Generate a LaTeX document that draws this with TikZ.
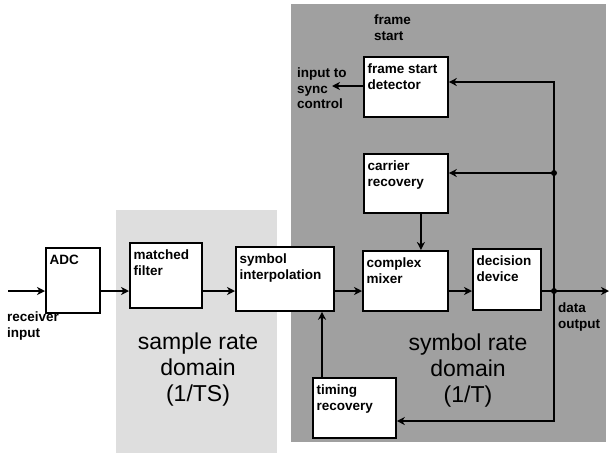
\documentclass[tikz,border=0pt]{standalone}
\usepackage{fontspec}
\setmainfont{Liberation Sans}
\usetikzlibrary{arrows.meta,positioning}

\definecolor{lightdom}{RGB}{222,222,222}
\definecolor{darkdom}{RGB}{160,160,160}

\begin{document}
\begin{tikzpicture}[
  x=1pt, y=-1pt,
  font=\bfseries\fontsize{13.5}{15.5}\selectfont,
  blk/.style={draw, line width=1.8pt, fill=white, anchor=north west, inner sep=0pt},
  lbl/.style={anchor=north west, align=left, inner xsep=4.5pt, inner ysep=8pt},
  txt/.style={anchor=north west, align=left, inner sep=0pt},
  dom/.style={align=center, font=\fontsize{23}{26}\selectfont},
  arr/.style={-{Stealth[length=8pt, width=8pt, inset=2.5pt]}, line width=1.8pt}]
\useasboundingbox (0,0) rectangle (610,453);
% ---------------- rate domains ----------------
\fill[lightdom] (116,210) rectangle (277,453);
\fill[darkdom] (291,4) rectangle (606,442);
\node[dom] (srd) at (198,370) {sample rate\\domain\\(1/TS)};
\node[dom] (yrd) at (468,371) {symbol rate\\domain\\(1/T)};
% ---------------- signal path ----------------
\node[blk, minimum width=54pt, minimum height=65pt, label={[lbl]north west:ADC}] (adc) at (45,247) {};
\node[blk, minimum width=72pt, minimum height=65pt, label={[lbl]north west:matched\\filter}] (mf) at (129,242) {};
\node[blk, minimum width=98pt, minimum height=64pt, label={[lbl]north west:symbol\\interpolation}] (si) at (235,246) {};
\node[blk, minimum width=85pt, minimum height=60pt, label={[lbl]north west:complex\\mixer}] (cm) at (362,250) {};
\node[blk, minimum width=68pt, minimum height=61pt, label={[lbl]north west:decision\\device}] (dd) at (472,248) {};
% ---------------- recovery loops ----------------
\node[blk, minimum width=84pt, minimum height=60pt, label={[lbl]north west:frame start\\detector}] (fsd) at (363,56) {};
\node[blk, minimum width=84pt, minimum height=59pt, label={[lbl]north west:carrier\\recovery}] (cr) at (363,153) {};
\node[blk, minimum width=83pt, minimum height=60pt, label={[lbl]north west:timing\\recovery}] (tr) at (312,377) {};
% ---------------- free labels ----------------
\node[txt] (rcv)    at (7,312)   {receiver\\input};
\node[txt] (dout)   at (558,303) {data\\output};
\node[txt] (fstart) at (374,15)  {frame\\start};
\node[txt] (sctl)   at (297,68)  {input to\\sync\\control};
% ---------------- connections ----------------
\coordinate (in)   at (8,291);
\coordinate (out)  at (609,291);
\coordinate (jout) at (554,291);
\coordinate (jcr)  at (554,173);
\coordinate (jfs)  at (554,82);
\coordinate (jtr)  at (554,421);
\coordinate (sync) at (332,86);
\coordinate (crbot) at ([xshift=15pt]cr.south);
\coordinate (trtop) at ([xshift=10pt]tr.north west);
\draw[arr] (in) -- (adc.west |- in);
\draw[arr] (adc.east |- in) -- (mf.west |- in);
\draw[arr] (mf.east |- in) -- (si.west |- in);
\draw[arr] (si.east |- in) -- (cm.west |- in);
\draw[arr] (cm.east |- in) -- (dd.west |- in);
\draw[arr] (dd.east |- in) -- (out);
\draw[arr] (jout) -- (jfs) -- (fsd.east |- jfs);
\draw[arr] (jcr) -- (cr.east |- jcr);
\draw[arr] (jout) -- (jtr) -- (tr.east |- jtr);
\draw[arr] (crbot) -- (crbot |- cm.north);
\draw[arr] (trtop) -- (trtop |- si.south);
\draw[arr] (fsd.west |- sync) -- (sync);
\fill (jcr) circle (3);
\fill (jout) circle (3);
\end{tikzpicture}
\end{document}
